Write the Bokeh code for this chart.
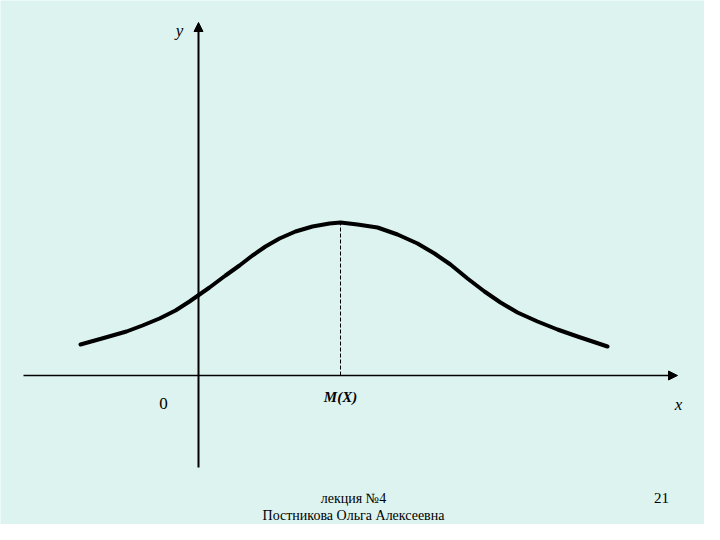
from bokeh.plotting import figure
from bokeh.models import Range1d, Arrow, NormalHead, Label
from bokeh.embed import file_html
from bokeh.resources import INLINE

# Curve (origin at the axes crossing, units ~ px)
curve_x = [-118, -93, -72, -56, -39, -23, -9, 1, 11, 27, 41, 54, 67, 81, 97, 114, 131, 142,
           159, 179, 199, 219, 236, 252, 269, 286, 302, 319, 339, 359, 379, 409]
curve_y = [31, 38, 44, 50, 57, 65, 74, 81, 88, 100, 110, 120, 129, 137, 144, 149, 152, 153,
           151, 148, 141, 132, 122, 111, 97, 84, 73, 63, 54, 46, 39, 29]
mean_x = 142
mean_y = 153
x_axis_span = [-175, 479]
y_axis_span = [-92, 353]

BG = "#dcf3f0"
SERIF = "'Liberation Serif', serif"

p = figure(width=704, height=524, output_backend="svg", toolbar_location=None,
           x_range=Range1d(-198, 506), y_range=Range1d(-149, 375),
           min_border=0, min_border_left=0, min_border_right=0,
           min_border_top=0, min_border_bottom=0)
p.axis.visible = False
p.grid.visible = False
p.outline_line_color = None
p.background_fill_color = BG
p.border_fill_color = BG

# axes with arrows
p.add_layout(Arrow(x_start=x_axis_span[0], y_start=0, x_end=x_axis_span[1], y_end=0,
                   line_width=1.5, line_color="black",
                   end=NormalHead(size=9, fill_color="black", line_color="black")))
p.add_layout(Arrow(x_start=0, y_start=y_axis_span[0], x_end=0, y_end=y_axis_span[1],
                   line_width=2, line_color="black",
                   end=NormalHead(size=9, fill_color="black", line_color="black")))

# dashed line at M(X)
p.line([mean_x, mean_x], [0, mean_y], line_color="black", line_width=1, line_dash="4 2")

# density curve
p.line(curve_x, curve_y, line_color="black", line_width=4, line_join="round", line_cap="round")

def lab(x, y, t, size, style="normal", align="center"):
    p.add_layout(Label(x=x, y=y, text=t, text_font=SERIF, text_font_size=size,
                       text_font_style=style, text_align=align, text_baseline="middle",
                       text_color="black"))

lab(-19, 345, "y", "17px", "italic")
lab(-35, -28, "0", "17px")
lab(mean_x, -21, "M(X)", "15px", "bold italic")
lab(480, -29, "x", "17px", "italic")
lab(155, -123, "лекция №4", "14px")
lab(155, -140, "Постникова Ольга Алексеевна", "14px")
lab(463, -122, "21", "15px")

open("out.html", "w").write(file_html(p, INLINE))
